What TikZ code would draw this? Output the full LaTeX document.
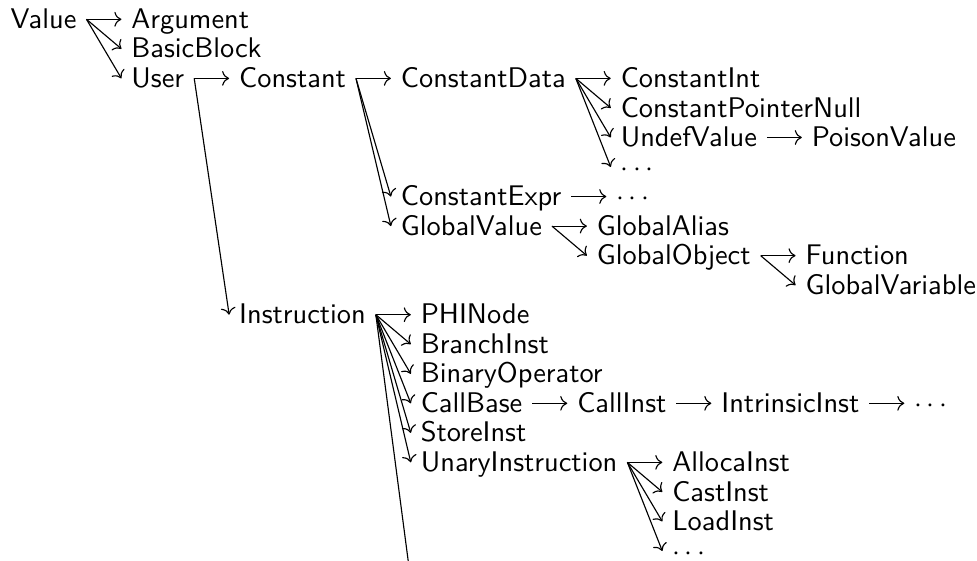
\documentclass[tikz,border=0pt]{standalone}
\usetikzlibrary{positioning,cd}
\begin{document}
\begin{tikzpicture}[cls/.style={font=\sffamily, inner xsep=3.33pt, inner ysep=0pt, text height=8.2pt, text depth=1.8pt}, arr/.style={->, >={cm to}}, node distance=12.3pt]
  \useasboundingbox (-0.19pt,1.6pt) rectangle (343.8pt,-195.9pt);
  % Value and its direct children
  \node[cls, anchor=north west] (Value) at (0,0) {Value};
  \node[cls, right=of Value] (Argument) {Argument};
  \node[cls, anchor=north west] (BasicBlock) at (Argument.south west) {BasicBlock};
  \node[cls, anchor=north west] (User) at (BasicBlock.south west) {User};
  % constants
  \node[cls, right=of User] (Constant) {Constant};
  \node[cls, right=of Constant] (ConstantData) {ConstantData};
  \node[cls, right=of ConstantData] (ConstantInt) {ConstantInt};
  \node[cls, anchor=north west] (ConstantPointerNull) at (ConstantInt.south west) {ConstantPointerNull};
  \node[cls, anchor=north west] (UndefValue) at (ConstantPointerNull.south west) {UndefValue};
  \node[cls, right=of UndefValue] (PoisonValue) {PoisonValue};
  \node[cls, anchor=north west] (dataDots) at (UndefValue.south west) {$\cdots$};
  \node[cls, anchor=north west] (ConstantExpr) at (ConstantData.west |- dataDots.south) {ConstantExpr};
  \node[cls, right=of ConstantExpr] (exprDots) {$\cdots$};
  \node[cls, anchor=north west] (GlobalValue) at (ConstantExpr.south west) {GlobalValue};
  \node[cls, right=of GlobalValue] (GlobalAlias) {GlobalAlias};
  \node[cls, anchor=north west] (GlobalObject) at (GlobalAlias.south west) {GlobalObject};
  \node[cls, right=of GlobalObject] (Function) {Function};
  \node[cls, anchor=north west] (GlobalVariable) at (Function.south west) {GlobalVariable};
  % instructions
  \node[cls, anchor=north west] (Instruction) at (Constant.west |- GlobalVariable.south) {Instruction};
  \node[cls, right=of Instruction] (PHINode) {PHINode};
  \node[cls, anchor=north west] (BranchInst) at (PHINode.south west) {BranchInst};
  \node[cls, anchor=north west] (BinaryOperator) at (BranchInst.south west) {BinaryOperator};
  \node[cls, anchor=north west] (CallBase) at (BinaryOperator.south west) {CallBase};
  \node[cls, right=of CallBase] (CallInst) {CallInst};
  \node[cls, right=of CallInst] (IntrinsicInst) {IntrinsicInst};
  \node[cls, right=of IntrinsicInst] (callDots) {$\cdots$};
  \node[cls, anchor=north west] (StoreInst) at (CallBase.south west) {StoreInst};
  \node[cls, anchor=north west] (UnaryInstruction) at (StoreInst.south west) {UnaryInstruction};
  \node[cls, right=of UnaryInstruction] (AllocaInst) {AllocaInst};
  \node[cls, anchor=north west] (CastInst) at (AllocaInst.south west) {CastInst};
  \node[cls, anchor=north west] (LoadInst) at (CastInst.south west) {LoadInst};
  \node[cls, anchor=north west] (unaryDots) at (LoadInst.south west) {$\cdots$};
  \node[cls, anchor=north west] (instDots) at (PHINode.west |- unaryDots.south) {$\cdots$};
  % arrows
  \foreach \c in {Argument,BasicBlock,User} \draw[arr] (Value.east) -- (\c.west);
  \foreach \c in {Constant,Instruction} \draw[arr] (User.east) -- (\c.west);
  \foreach \c in {ConstantData,ConstantExpr,GlobalValue} \draw[arr] (Constant.east) -- (\c.west);
  \foreach \c in {ConstantInt,ConstantPointerNull,UndefValue,dataDots} \draw[arr] (ConstantData.east) -- (\c.west);
  \draw[arr] (UndefValue.east) -- (PoisonValue.west);
  \draw[arr] (ConstantExpr.east) -- (exprDots.west);
  \foreach \c in {GlobalAlias,GlobalObject} \draw[arr] (GlobalValue.east) -- (\c.west);
  \foreach \c in {Function,GlobalVariable} \draw[arr] (GlobalObject.east) -- (\c.west);
  \foreach \c in {PHINode,BranchInst,BinaryOperator,CallBase,StoreInst,UnaryInstruction,instDots} \draw[arr] (Instruction.east) -- (\c.west);
  \draw[arr] (CallBase.east) -- (CallInst.west);
  \draw[arr] (CallInst.east) -- (IntrinsicInst.west);
  \draw[arr] (IntrinsicInst.east) -- (callDots.west);
  \foreach \c in {AllocaInst,CastInst,LoadInst,unaryDots} \draw[arr] (UnaryInstruction.east) -- (\c.west);
\end{tikzpicture}
\end{document}
